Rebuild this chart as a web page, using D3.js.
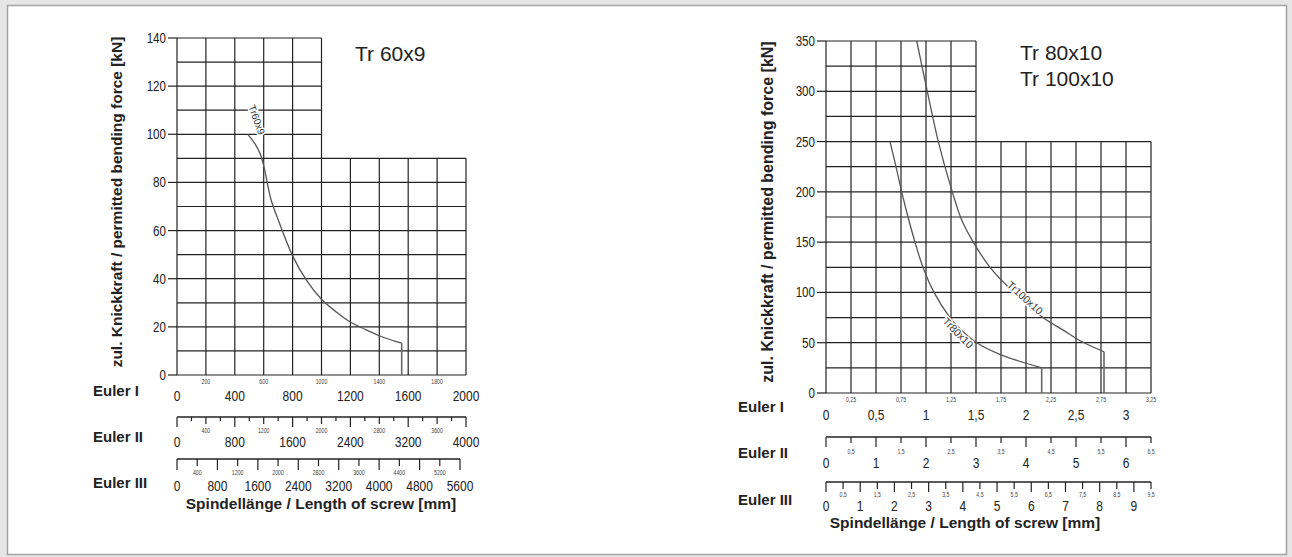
<!DOCTYPE html>
<html>
<head>
<meta charset="utf-8">
<script src="https://cdn.jsdelivr.net/npm/d3@7"></script>
<style>
  body { margin: 0; background: #e6e6e6; }
  svg { display: block; }
</style>
</head>
<body>
<svg id="chart" width="1292" height="557"></svg>
<script>
// Tr 60x9 (left chart)
const leftTicksY = [0, 20, 40, 60, 80, 100, 120, 140];
const leftGridX = [0, 200, 400, 600, 800, 1000, 1200, 1400, 1600, 1800, 2000];
const leftGridY = [0, 10, 20, 30, 40, 50, 60, 70, 80, 90, 100, 110, 120, 130, 140];
const leftEuler1Big = [0, 400, 800, 1200, 1600, 2000];
const leftEuler1Small = [200, 600, 1000, 1400, 1800];
const leftEuler2Big = [0, 800, 1600, 2400, 3200, 4000];
const leftEuler2Small = [400, 1200, 2000, 2800, 3600];
const leftEuler2Minor = [200, 600, 1000, 1400, 1800, 2200, 2600, 3000, 3400, 3800];
const leftEuler3Big = [0, 800, 1600, 2400, 3200, 4000, 4800, 5600];
const leftEuler3Small = [400, 1200, 2000, 2800, 3600, 4400, 5200];
const tr60x9 = [[490, 100], [540, 96], [575, 92], [600, 87], [650, 73], [700, 64.5], [800, 49.5],
  [900, 39], [1000, 31.5], [1100, 26.3], [1200, 22], [1300, 19], [1400, 16.3], [1500, 14.2],
  [1555, 13.2]];
const tr60x9End = 1555;

// Tr 80x10 / Tr 100x10 (right chart)
const rightTicksY = [0, 50, 100, 150, 200, 250, 300, 350];
const rightGridX = [0, 0.25, 0.5, 0.75, 1, 1.25, 1.5, 1.75, 2, 2.25, 2.5, 2.75, 3, 3.25];
const rightGridY = [0, 25, 50, 75, 100, 125, 150, 175, 200, 225, 250, 275, 300, 325, 350];
const rightEuler1Big = [0, 0.5, 1, 1.5, 2, 2.5, 3];
const rightEuler1Small = [0.25, 0.75, 1.25, 1.75, 2.25, 2.75, 3.25];
const rightEuler2Big = [0, 1, 2, 3, 4, 5, 6];
const rightEuler2Small = [0.5, 1.5, 2.5, 3.5, 4.5, 5.5, 6.5];
const rightEuler3Big = [0, 1, 2, 3, 4, 5, 6, 7, 8, 9];
const rightEuler3Small = [0.5, 1.5, 2.5, 3.5, 4.5, 5.5, 6.5, 7.5, 8.5, 9.5];
const tr80x10 = [[0.64, 250], [0.70, 225], [0.757, 200], [0.82, 175], [0.89, 150], [0.97, 125],
  [1.08, 100], [1.24, 75], [1.36, 62], [1.507, 50], [1.75, 38], [2.157, 25]];
const tr80x10End = 2.157;
const tr100x10 = [[0.907, 350], [1.013, 300], [1.123, 250], [1.263, 200], [1.357, 172], [1.473, 150],
  [1.64, 125], [1.88, 100], [2.17, 75], [2.38, 62], [2.54, 52], [2.78, 41]];
const tr100x10End = 2.78;

const FONT = '"Liberation Sans", Arial, sans-serif';
const INK = '#222';
const NARROW = 0.8;
const de = d => String(d).replace('.', ',');

const svg = d3.select('#chart');

// panel
svg.append('rect')
  .attr('x', 7.5).attr('y', 5.5).attr('width', 1279).attr('height', 549)
  .attr('fill', '#fff').attr('stroke', '#a3a3a3').attr('stroke-width', 1.5);

// condensed number text
function numText(g, data, xf, y, size, anchor, fmt, fill) {
  g.selectAll(null).data(data).enter().append('text')
    .attr('transform', d => `translate(${xf(d)},${typeof y === 'function' ? y(d) : y}) scale(${NARROW},1)`)
    .attr('text-anchor', anchor)
    .attr('font-family', FONT).attr('font-size', size).attr('fill', fill || INK)
    .text(d => fmt(d));
}

function drawChart(o) {
  const g = svg.append('g');

  // grid
  g.selectAll('.vg').data(o.gridX).enter().append('line')
    .attr('x1', d => o.x(d)).attr('x2', d => o.x(d))
    .attr('y1', o.y(0)).attr('y2', d => o.y(d <= o.stepX ? o.maxY : o.stepY))
    .attr('stroke', INK).attr('stroke-width', 1.2);
  g.selectAll('.hg').data(o.gridY).enter().append('line')
    .attr('y1', d => o.y(d)).attr('y2', d => o.y(d))
    .attr('x1', o.x(0)).attr('x2', d => o.x(d <= o.stepY ? o.maxX : o.stepX))
    .attr('stroke', INK).attr('stroke-width', 1.2);

  // y ticks + labels
  g.selectAll('.yt').data(o.ticksY).enter().append('line')
    .attr('x1', o.x(0) - 9).attr('x2', o.x(0))
    .attr('y1', d => o.y(d)).attr('y2', d => o.y(d))
    .attr('stroke', INK).attr('stroke-width', 1.2);
  numText(g, o.ticksY, () => o.x(0) - 11, d => o.y(d) + 5, 14.5, 'end', String);

  // curves
  const line = d3.line().x(d => o.x(d[0])).y(d => o.y(d[1])).curve(d3.curveCatmullRom.alpha(0.5));
  o.curves.forEach(c => {
    g.append('path').datum(c.data)
      .attr('d', line).attr('fill', 'none')
      .attr('stroke', '#555').attr('stroke-width', 1.3);
    const last = c.data[c.data.length - 1];
    g.append('line')
      .attr('x1', o.x(c.end)).attr('x2', o.x(c.end))
      .attr('y1', o.y(last[1])).attr('y2', o.y(0))
      .attr('stroke', '#666').attr('stroke-width', 1.6);
    g.append('text')
      .attr('transform', `translate(${o.x(c.lx)},${o.y(c.ly)}) rotate(${c.rot})`)
      .attr('text-anchor', 'middle').attr('dy', '0.35em')
      .attr('font-family', FONT).attr('font-size', c.size)
      .attr('fill', '#333')
      .attr('stroke', '#fff').attr('stroke-width', 3).attr('paint-order', 'stroke')
      .text(c.name);
  });

  // title
  o.title.forEach((t, i) => {
    g.append('text').attr('x', o.titleX).attr('y', o.titleY + i * 26)
      .attr('font-family', FONT).attr('font-size', 21).attr('fill', '#222').text(t);
  });

  // y label
  g.append('text')
    .attr('transform', `translate(${o.yLabelX},${o.yLabelY}) rotate(-90)`)
    .attr('text-anchor', 'middle')
    .attr('font-family', FONT).attr('font-weight', 'bold').attr('font-size', o.yLabelSize)
    .attr('fill', '#222')
    .text('zul. Knickkraft / permitted bending force [kN]');

  // Euler rows
  o.rows.forEach(r => {
    if (r.line) {
      g.append('line').attr('x1', r.scale.range()[0]).attr('x2', r.scale.range()[1])
        .attr('y1', r.lineY).attr('y2', r.lineY).attr('stroke', INK).attr('stroke-width', 1.3);
      g.selectAll(null).data(r.ticks).enter().append('line')
        .attr('x1', d => r.scale(d[0])).attr('x2', d => r.scale(d[0]))
        .attr('y1', r.lineY).attr('y2', d => r.lineY + d[1])
        .attr('stroke', INK).attr('stroke-width', 1.2);
    }
    numText(g, r.big, r.scale, r.bigY, 15, 'middle', o.fmt);
    numText(g, r.small, r.scale, r.smallY, 6.5, 'middle', o.fmt, '#444');
    g.append('text').attr('x', o.eulerX).attr('y', r.nameY)
      .attr('font-family', FONT).attr('font-weight', 'bold').attr('font-size', 15)
      .attr('fill', '#222').text(r.name);
  });

  g.append('text').attr('x', o.xLabelX).attr('y', o.xLabelY)
    .attr('text-anchor', 'middle')
    .attr('font-family', FONT).attr('font-weight', 'bold').attr('font-size', 15.5)
    .attr('fill', '#222').text('Spindellänge / Length of screw [mm]');
}

function ticksFor(values, len) {
  return values.map(v => [v, len(v)]);
}

// left
const xL = d3.scaleLinear().domain([0, 2000]).range([177, 466]);
const yL = d3.scaleLinear().domain([0, 140]).range([375, 38]);
const xL2 = d3.scaleLinear().domain([0, 4000]).range([177, 466]);
const xL3 = d3.scaleLinear().domain([0, 5600]).range([177, 460]);

drawChart({
  x: xL, y: yL, gridX: leftGridX, gridY: leftGridY, ticksY: leftTicksY,
  maxX: 2000, maxY: 140, stepX: 1000, stepY: 90,
  fmt: d => String(d),
  curves: [{ name: 'Tr60x9', data: tr60x9, end: tr60x9End, lx: 552, ly: 106, rot: 70, size: 10 }],
  title: ['Tr 60x9'], titleX: 355, titleY: 61,
  yLabelX: 122, yLabelY: 202, yLabelSize: 15.5,
  eulerX: 93,
  xLabelX: 321, xLabelY: 509,
  rows: [
    { name: 'Euler I', scale: xL, line: false, big: leftEuler1Big, small: leftEuler1Small,
      bigY: 401, smallY: 384, nameY: 396 },
    { name: 'Euler II', scale: xL2, line: true, lineY: 417,
      ticks: ticksFor(leftEuler2Big, () => 10).concat(ticksFor(leftEuler2Small, () => 7), ticksFor(leftEuler2Minor, () => 4)),
      big: leftEuler2Big, small: leftEuler2Small, bigY: 447, smallY: 433, nameY: 442 },
    { name: 'Euler III', scale: xL3, line: true, lineY: 459,
      ticks: ticksFor(leftEuler3Big, () => 11).concat(ticksFor(leftEuler3Small, () => 7)),
      big: leftEuler3Big, small: leftEuler3Small, bigY: 491, smallY: 474.5, nameY: 488 }
  ]
});

// right
const xR = d3.scaleLinear().domain([0, 3.25]).range([826, 1151]);
const yR = d3.scaleLinear().domain([0, 350]).range([393, 41]);
const xR2 = d3.scaleLinear().domain([0, 6.5]).range([826, 1151]);
const xR3 = d3.scaleLinear().domain([0, 9.5]).range([826, 1151]);

drawChart({
  x: xR, y: yR, gridX: rightGridX, gridY: rightGridY, ticksY: rightTicksY,
  maxX: 3.25, maxY: 350, stepX: 1.5, stepY: 250,
  fmt: de,
  curves: [
    { name: 'Tr100x10', data: tr100x10, end: tr100x10End, lx: 1.99, ly: 94.5, rot: 42, size: 10.5 },
    { name: 'Tr80x10', data: tr80x10, end: tr80x10End, lx: 1.32, ly: 59.7, rot: 45, size: 10.5 }
  ],
  title: ['Tr 80x10', 'Tr 100x10'], titleX: 1020, titleY: 60,
  yLabelX: 773, yLabelY: 212, yLabelSize: 16,
  eulerX: 738,
  xLabelX: 965, xLabelY: 528,
  rows: [
    { name: 'Euler I', scale: xR, line: false, big: rightEuler1Big, small: rightEuler1Small,
      bigY: 420, smallY: 402, nameY: 412 },
    { name: 'Euler II', scale: xR2, line: true, lineY: 437,
      ticks: ticksFor(rightEuler2Big, () => 10).concat(ticksFor(rightEuler2Small, () => 6)),
      big: rightEuler2Big, small: rightEuler2Small, bigY: 468, smallY: 454, nameY: 458 },
    { name: 'Euler III', scale: xR3, line: true, lineY: 482,
      ticks: ticksFor(rightEuler3Big, () => 10).concat(ticksFor(rightEuler3Small, () => 7)),
      big: rightEuler3Big, small: rightEuler3Small, bigY: 511, smallY: 497, nameY: 505 }
  ]
});
</script>
</body>
</html>
